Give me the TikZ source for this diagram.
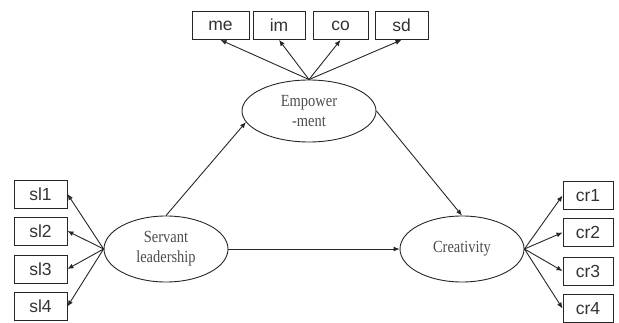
\documentclass[tikz,border=0pt]{standalone}
\usepackage{fontspec}
\usetikzlibrary{shapes.geometric,arrows.meta}
\newfontfamily\boxfont{Liberation Sans}
\newfontfamily\ellfont[FakeStretch=0.85]{Liberation Serif}
\begin{document}
\begin{tikzpicture}[x=1pt,y=-1pt,
  obs/.style={draw=black!85,line width=0.9pt,minimum height=28pt,inner sep=0pt,
    font=\boxfont\fontsize{17.5}{20}\selectfont,text=black!80},
  lat/.style={ellipse,draw=black!85,line width=0.9pt,inner sep=0pt,minimum width=124pt,minimum height=66pt,
    align=center,font=\ellfont\fontsize{17}{20}\selectfont,text=black!70},
  arr/.style={draw=black!85,line width=0.9pt,-{Latex[length=6pt,width=5pt]}}]
\useasboundingbox (0,0) rectangle (619,323);
% latent
\node[lat,minimum width=134pt,minimum height=62pt] (emp) at (309,111) {Empower\\-ment};
\node[lat] (sl) at (166,249) {Servant\\leadership};
\node[lat] (cr) at (462,249) {Creativity};
% top indicators
\node[obs,minimum width=57pt] (me) at (220.5,25.5) {me};
\node[obs,minimum width=52pt] (im) at (279,25.5) {im};
\node[obs,minimum width=55pt] (co) at (340.5,25.5) {co};
\node[obs,minimum width=53pt] (sd) at (401.5,25.5) {sd};
% left indicators
\node[obs,minimum width=53pt] (sl1) at (40.5,194) {sl1};
\node[obs,minimum width=53pt] (sl2) at (40.5,231) {sl2};
\node[obs,minimum width=53pt] (sl3) at (40.5,269) {sl3};
\node[obs,minimum width=53pt] (sl4) at (40.5,306.5) {sl4};
% right indicators
\node[obs,minimum width=50pt] (cr1) at (588,195.5) {cr1};
\node[obs,minimum width=50pt] (cr2) at (588,232.5) {cr2};
\node[obs,minimum width=50pt] (cr3) at (588,271) {cr3};
\node[obs,minimum width=50pt] (cr4) at (588,308.5) {cr4};
% loadings
\foreach \b in {me,im,co,sd} \draw[arr] (emp.north) -- (\b.south);
\foreach \b in {sl1,sl2,sl3,sl4} \draw[arr] (sl.west) -- (\b.east);
\foreach \b in {cr1,cr2,cr3,cr4} \draw[arr] (cr.east) -- (\b.west);
% structural paths
\draw[arr] (sl.north) -- (emp.190);
\draw[arr] (emp.east) -- (cr.north);
\draw[arr] (sl.east) -- (cr.west);
\end{tikzpicture}
\end{document}
